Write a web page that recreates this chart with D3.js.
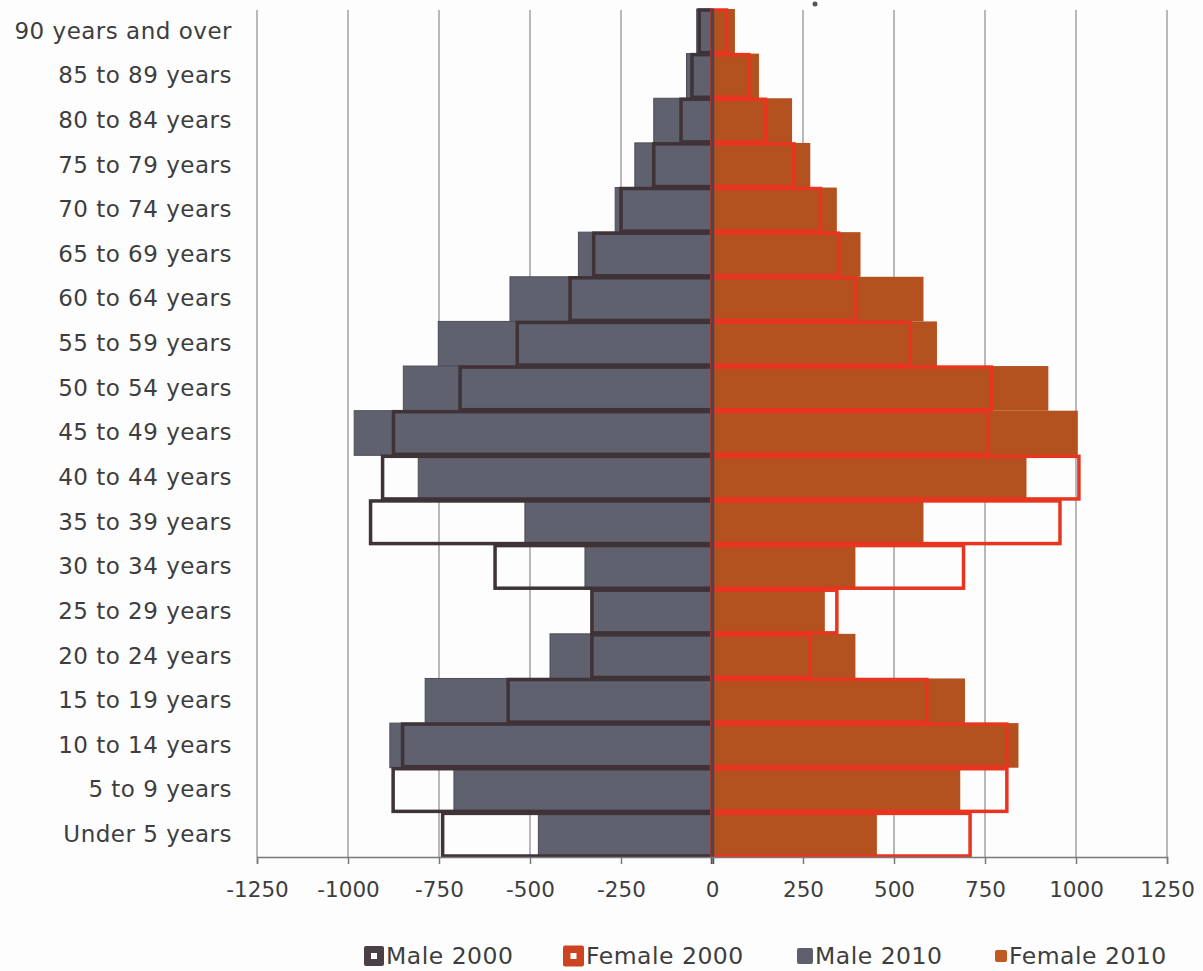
<!DOCTYPE html>
<html>
<head>
<meta charset="utf-8">
<script src="https://cdn.jsdelivr.net/npm/d3@7"></script>
<style>
  html, body { margin: 0; padding: 0; background: #fdfdfd; }
  svg { display: block; }
  text { font-family: "DejaVu Sans", sans-serif; fill: #3e3e3e; }
</style>
</head>
<body>
<svg id="chart" width="1203" height="971"></svg>
<script>
// Categories, top to bottom
const categories = [
  "90 years and over", "85 to 89 years", "80 to 84 years", "75 to 79 years",
  "70 to 74 years", "65 to 69 years", "60 to 64 years", "55 to 59 years",
  "50 to 54 years", "45 to 49 years", "40 to 44 years", "35 to 39 years",
  "30 to 34 years", "25 to 29 years", "20 to 24 years", "15 to 19 years",
  "10 to 14 years", "5 to 9 years", "Under 5 years"
];
const male2000   = [35, 55, 85, 160, 250, 325, 390, 535, 692, 875, 905, 938, 596, 330, 330, 560, 850, 876, 740];
const female2000 = [40, 101, 147, 225, 298, 348, 396, 545, 768, 759, 1008, 956, 691, 343, 270, 590, 810, 810, 709];
const male2010   = [42, 70, 160, 212, 266, 367, 555, 752, 848, 983, 807, 514, 349, 326, 445, 788, 885, 709, 477];
const female2010 = [63, 129, 220, 270, 343, 408, 581, 618, 924, 1005, 864, 581, 394, 310, 394, 695, 842, 682, 453];
const xTicks = [-1250, -1000, -750, -500, -250, 0, 250, 500, 750, 1000, 1250];
const legendLabels = ["Male 2000", "Female 2000", "Male 2010", "Female 2010"];

const svg = d3.select("#chart");
const plotLeft = 257, plotRight = 1167, plotTop = 9, plotBottom = 857;

const x = d3.scaleLinear().domain([-1250, 1250]).range([plotLeft, plotRight]);
const y = d3.scaleBand().domain(categories).range([plotTop, plotBottom]).padding(0);

// gridlines
svg.append("g").selectAll("line").data(xTicks).join("line")
  .attr("x1", d => x(d)).attr("x2", d => x(d))
  .attr("y1", plotTop + 1).attr("y2", plotBottom)
  .attr("stroke", "#8a8a8a").attr("stroke-width", 1.2);

// 2010 filled bars
svg.append("g").selectAll("rect").data(categories).join("rect")
  .attr("x", (d, i) => x(-male2010[i]))
  .attr("y", d => y(d))
  .attr("width", (d, i) => x(0) - x(-male2010[i]))
  .attr("height", y.bandwidth())
  .attr("fill", "#60616e").attr("stroke", "#4e4c58").attr("stroke-width", 1);

svg.append("g").selectAll("rect").data(categories).join("rect")
  .attr("x", x(0))
  .attr("y", d => y(d))
  .attr("width", (d, i) => x(female2010[i]) - x(0))
  .attr("height", y.bandwidth())
  .attr("fill", "#b4521f");

// 2000 outline bars
svg.append("g").selectAll("rect").data(categories).join("rect")
  .attr("x", (d, i) => x(-male2000[i]))
  .attr("y", d => y(d) + 1)
  .attr("width", (d, i) => x(0) - x(-male2000[i]))
  .attr("height", y.bandwidth() - 2)
  .attr("fill", "none").attr("stroke", "#3f3338").attr("stroke-width", 3.5);

svg.append("g").selectAll("rect").data(categories).join("rect")
  .attr("x", x(0))
  .attr("y", d => y(d) + 1)
  .attr("width", (d, i) => x(female2000[i]) - x(0))
  .attr("height", y.bandwidth() - 2)
  .attr("fill", "none").attr("stroke", "#e8351f").attr("stroke-width", 3.5);

// zero axis line
svg.append("line")
  .attr("x1", x(0) + 0.5).attr("x2", x(0) + 0.5).attr("y1", plotTop).attr("y2", plotBottom + 7)
  .attr("stroke", "#4a4650").attr("stroke-width", 3.5);

// x axis
const xAxis = d3.axisBottom(x).tickValues(xTicks).tickSize(7).tickPadding(18)
  .tickFormat(d => String(d));
const gx = svg.append("g").attr("transform", `translate(0,${plotBottom})`).call(xAxis);
gx.select(".domain").attr("stroke", "#7a7a7a").attr("stroke-width", 1.5);
gx.selectAll(".tick line").attr("stroke", "#7a7a7a").attr("stroke-width", 1.5);
gx.selectAll(".tick text").attr("font-size", 21.5).attr("fill", "#3e3e3e")
  .style("font-family", '"DejaVu Sans", sans-serif');

// category labels
const yAxis = d3.axisLeft(y).tickSize(0).tickPadding(0);
const gy = svg.append("g").attr("transform", `translate(232,0)`).call(yAxis);
gy.select(".domain").remove();
gy.selectAll(".tick text").attr("font-size", 23).attr("fill", "#3e3e3e")
  .style("letter-spacing", "0.5px")
  .style("font-family", '"DejaVu Sans", sans-serif');

// small dot artifact at top
svg.append("circle").attr("cx", 815).attr("cy", 4).attr("r", 2.5).attr("fill", "#555");

// legend
const legendX = [364, 563, 797, 995];
const markerSize = [20, 21, 16, 12];
const markerFill = ["#4a3f46", "#cd4420", "#5e5f6c", "#c05a22"];
const lg = svg.append("g");
legendLabels.forEach((lab, i) => {
  const s = markerSize[i];
  lg.append("rect").attr("x", legendX[i]).attr("y", 956 - s / 2).attr("width", s).attr("height", s)
    .attr("rx", 2).attr("fill", markerFill[i]);
  if (i < 2) {
    lg.append("rect").attr("x", legendX[i] + s / 2 - 3).attr("y", 956 - 3).attr("width", 6).attr("height", 6)
      .attr("fill", "#ffffff");
  }
  lg.append("text").attr("x", legendX[i] + s + 2).attr("y", 956).attr("dy", "0.36em")
    .attr("font-size", 23.5).style("letter-spacing", "0.5px").text(lab);
});
</script>
</body>
</html>
